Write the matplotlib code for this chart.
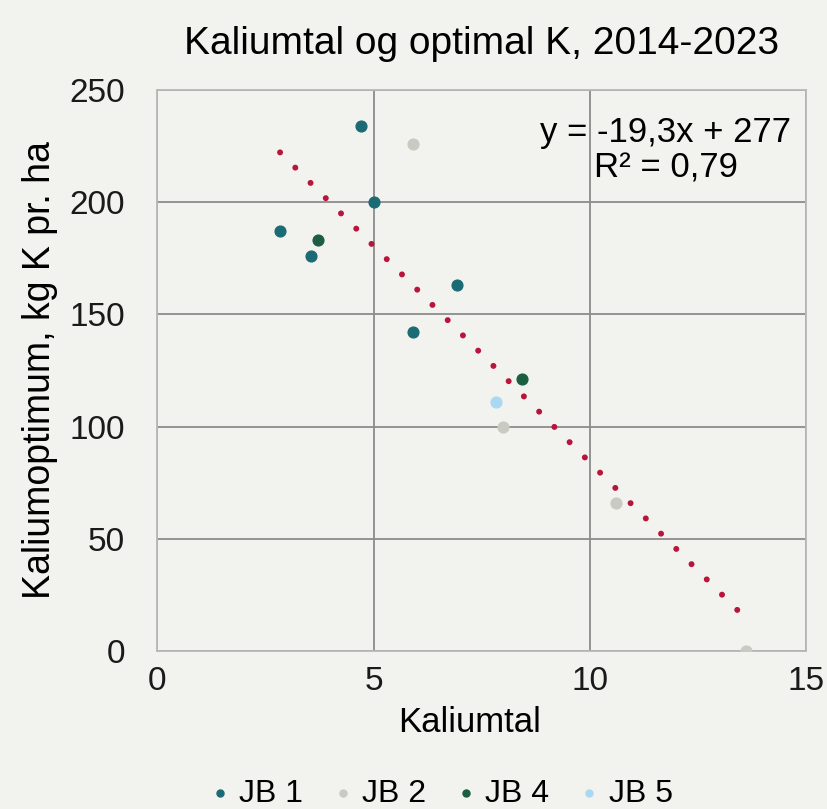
import matplotlib
matplotlib.use("Agg")
import matplotlib.pyplot as plt
import numpy as np

plt.rcParams['font.family'] = ['Liberation Sans', 'DejaVu Sans']

# data
jb1_x = [2.84, 4.71, 5.01, 3.56, 5.91, 6.93]
jb1_y = [187, 234, 200, 176, 142, 163]
jb2_x = [5.91, 7.99, 10.6, 13.6]
jb2_y = [226, 100, 66, 0]
jb4_x = [3.72, 8.43]
jb4_y = [183, 121]
jb5_x = [7.83]
jb5_y = [111]

slope, intercept = -19.3, 277
bg = '#f2f2ee'

fig = plt.figure(figsize=(8.27, 8.09), dpi=100, facecolor=bg)
ax = fig.add_axes([0.190, 0.1953, 0.785, 0.6935], facecolor=bg)

ax.scatter(jb1_x, jb1_y, s=60, color='#1b6b75', label='JB 1', zorder=3)
ax.scatter(jb2_x, jb2_y, s=60, color='#c9cac2', label='JB 2', zorder=3)
ax.scatter(jb4_x, jb4_y, s=60, color='#1b5e40', label='JB 4', zorder=3)
ax.scatter(jb5_x, jb5_y, s=60, color='#a9d9f2', label='JB 5', zorder=3)

allx = jb1_x + jb2_x + jb4_x + jb5_x
tx = np.array([min(allx), max(allx)])
ax.plot(tx, slope * tx + intercept, color='#b8143c', lw=4.3,
        linestyle=(0, (0.01, 3.6)), dash_capstyle='round', zorder=2)

ax.set_xlim(0, 15)
ax.set_ylim(0, 250)
ax.set_xticks([0, 5, 10, 15])
ax.set_yticks([0, 50, 100, 150, 200, 250])
ax.grid(True, color='#8c8c8c', lw=1.3)
ax.set_axisbelow(True)
for s in ax.spines.values():
    s.set_color('#b8b8b8')
    s.set_linewidth(1.3)
ax.tick_params(axis='both', length=0, labelsize=24, colors='#1a1a1a')
ax.tick_params(axis='y', pad=23)
ax.tick_params(axis='x', pad=11)

ax.set_xlabel('Kaliumtal', fontsize=25, labelpad=6)
ax.xaxis.label.set_x(0.482)
ax.set_ylabel('Kaliumoptimum, kg K pr. ha', fontsize=27, labelpad=8)
ax.set_title('Kaliumtal og optimal K, 2014-2023', fontsize=28, pad=26)

ax.text(0.783, 0.893, 'y = -19,3x + 277\nR² = 0,79', transform=ax.transAxes,
        ha='center', va='center', fontsize=25, linespacing=1.1)

leg = fig.legend(loc='lower center', bbox_to_anchor=(0.53, -0.035), ncol=4,
                 frameon=False, fontsize=23, handletextpad=0.1,
                 columnspacing=0.75, markerscale=0.65, handlelength=1.0)

fig.savefig('out.png', dpi=100, facecolor=bg)
